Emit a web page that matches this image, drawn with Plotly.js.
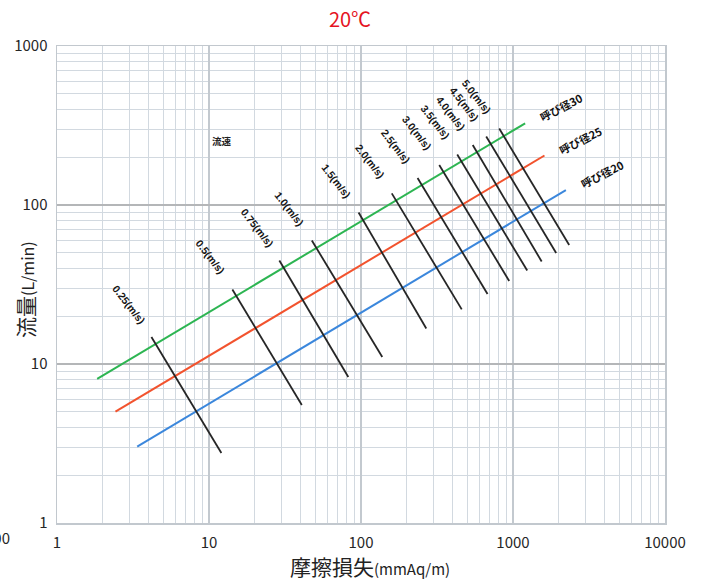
<!DOCTYPE html>
<html>
<head>
<meta charset="utf-8">
<script src="https://cdn.plot.ly/plotly-3.0.1.min.js"></script>
<style>
  html, body { margin: 0; padding: 0; background: #ffffff; }
  #chart { width: 707px; height: 582px; }
</style>
</head>
<body>
<div id="chart"></div>
<script>
// ---- data ----
const xTickVals = [1, 10, 100, 1000, 10000];
const xTickText = ['1', '10', '100', '1000', '10000'];
const yTickVals = [1, 10, 100, 1000];
const yTickText = ['1', '10', '100', '1000'];

// pipe-size lines (start, end)
const pipeNames = ['呼び径30', '呼び径25', '呼び径20'];
const pipe30X = [1.838, 1202];
const pipe30Y = [8.05, 326.6];
const pipe25X = [2.424, 1611];
const pipe25Y = [5.01, 204.8];
const pipe20X = [3.37, 2228];
const pipe20Y = [3.02, 124.2];

// constant velocity lines (top point, bottom point)
const velocityLabels = ['0.25(m/s)', '0.5(m/s)', '0.75(m/s)', '1.0(m/s)', '1.5(m/s)', '2.0(m/s)',
                        '2.5(m/s)', '3.0(m/s)', '3.5(m/s)', '4.0(m/s)', '4.5(m/s)', '5.0(m/s)'];
const velTopX = [4.18, 14.25, 29.03, 47.5, 96.4, 159.4, 235.6, 327.2, 429.7, 543.3, 666.5, 811.5];
const velTopY = [14.79, 29.42, 44.77, 59.8, 89.7, 118.3, 147.8, 178.5, 207.8, 238.4, 269.7, 302.8];
const velBotX = [12.06, 40.8, 82.5, 138.0, 268.8, 460, 679.8, 944, 1240, 1544, 1923, 2342];
const velBotY = [2.756, 5.52, 8.28, 11.07, 16.73, 22.05, 27.56, 33.27, 38.73, 44.13, 49.9, 56.03];

const noteText = '流速';
const noteX = 12.25;
const noteY = 252.8;

const xTitleMain = '摩擦損失';
const xTitleUnit = '(mmAq/m)';
const yTitleMain = '流量';
const yTitleUnit = '(L/min)';

// ---- styles ----
const pipeColors = ['#2db552', '#f2532e', '#3b87dc'];
const velColor = '#262626';
const cjk = '"Noto Sans CJK JP", "Noto Sans", sans-serif';
const tickFont = { family: cjk, size: 15, color: '#262626' };

const traces = [];
const pipeXs = [pipe30X, pipe25X, pipe20X];
const pipeYs = [pipe30Y, pipe25Y, pipe20Y];
for (let i = 0; i < 3; i++) {
  traces.push({
    x: pipeXs[i], y: pipeYs[i], mode: 'lines', type: 'scatter',
    line: { color: pipeColors[i], width: 2 }, name: pipeNames[i], hoverinfo: 'skip'
  });
}
for (let i = 0; i < velocityLabels.length; i++) {
  traces.push({
    x: [velTopX[i], velBotX[i]], y: [velTopY[i], velBotY[i]], mode: 'lines', type: 'scatter',
    line: { color: velColor, width: 1.8 }, name: velocityLabels[i], hoverinfo: 'skip'
  });
}

// minor grid values (2..9 in each decade)
function minorVals(maxDec) {
  const out = [];
  for (let d = 0; d < maxDec; d++) {
    for (let k = 2; k <= 9; k++) out.push(k * Math.pow(10, d));
  }
  return out;
}

const annotations = [];
for (let i = 0; i < velocityLabels.length; i++) {
  annotations.push({
    x: Math.log10(velTopX[i]), y: Math.log10(velTopY[i]), xref: 'x', yref: 'y',
    text: '<b>' + velocityLabels[i] + '</b>', showarrow: false, textangle: 52,
    xshift: -22, yshift: 32,
    font: { family: 'Liberation Sans, Arial, sans-serif', size: 10.5, color: '#151515' }
  });
}
const pipeEndX = [pipe30X[1], pipe25X[1], pipe20X[1]];
const pipeEndY = [pipe30Y[1], pipe25Y[1], pipe20Y[1]];
for (let i = 0; i < 3; i++) {
  annotations.push({
    x: Math.log10(pipeEndX[i]), y: Math.log10(pipeEndY[i]), xref: 'x', yref: 'y',
    text: '<b>' + pipeNames[i] + '</b>', showarrow: false, textangle: -27,
    xshift: 36, yshift: 16,
    font: { family: cjk, size: 11, color: '#111' }
  });
}
annotations.push({
  x: Math.log10(noteX), y: Math.log10(noteY), xref: 'x', yref: 'y',
  text: '<b>' + noteText + '</b>', showarrow: false,
  font: { family: cjk, size: 9.5, color: '#222' }
});
// stray cut-off label at the far left of the x axis (as in the reference)
annotations.push({
  x: (12 - 57) / 608, y: (523 - 537) / 477, xref: 'paper', yref: 'paper', text: '100', showarrow: false,
  xanchor: 'right', yanchor: 'middle', font: tickFont
});
// axis titles
annotations.push({
  x: (370 - 57) / 608, y: (523 - 566) / 477, xref: 'paper', yref: 'paper', showarrow: false,
  xanchor: 'center', yanchor: 'middle',
  text: xTitleMain + '<span style="font-size:15px">' + xTitleUnit + '</span>',
  font: { family: cjk, size: 21, color: '#222' }
});
annotations.push({
  x: (25 - 57) / 608, y: (523 - 290) / 477, xref: 'paper', yref: 'paper', showarrow: false,
  xanchor: 'center', yanchor: 'middle', textangle: -90,
  text: yTitleMain + '<span style="font-size:16px">' + yTitleUnit + '</span>',
  font: { family: cjk, size: 21, color: '#222' }
});

const gridMinor = '#d2d9e0';
const gridMajorX = '#c3c9cf';
const gridMajorY = '#b4b6b8';

const layout = {
  width: 707, height: 582,
  margin: { l: 57, r: 42, t: 46, b: 59 },
  paper_bgcolor: '#ffffff', plot_bgcolor: '#ffffff',
  showlegend: false,
  title: {
    text: '20℃', x: 350 / 707, xref: 'container', xanchor: 'center',
    y: 1 - 20 / 582, yref: 'container', yanchor: 'middle',
    font: { family: cjk, size: 20, color: '#e5141f' }
  },
  xaxis: {
    type: 'log', range: [0, 4], tickmode: 'array', tickvals: xTickVals, ticktext: xTickText,
    tickfont: tickFont, ticks: 'outside', ticklen: 5, tickcolor: 'rgba(0,0,0,0)',
    showgrid: true, gridcolor: gridMajorX, gridwidth: 1.3,
    minor: { tickmode: 'array', tickvals: minorVals(4), showgrid: true, gridcolor: gridMinor, gridwidth: 1, ticks: '' },
    showline: true, linecolor: '#c2c8ce', linewidth: 1.5, mirror: true, zeroline: false
  },
  yaxis: {
    type: 'log', range: [0, 3], tickmode: 'array', tickvals: yTickVals, ticktext: yTickText,
    tickfont: tickFont, ticks: 'outside', ticklen: 5, tickcolor: 'rgba(0,0,0,0)',
    showgrid: true, gridcolor: gridMajorY, gridwidth: 2,
    minor: { tickmode: 'array', tickvals: minorVals(3), showgrid: true, gridcolor: gridMinor, gridwidth: 1, ticks: '' },
    showline: true, linecolor: '#c2c8ce', linewidth: 1.5, mirror: true, zeroline: false
  },
  annotations: annotations
};

Plotly.newPlot('chart', traces, layout, { staticPlot: true, displayModeBar: false });
</script>
</body>
</html>
